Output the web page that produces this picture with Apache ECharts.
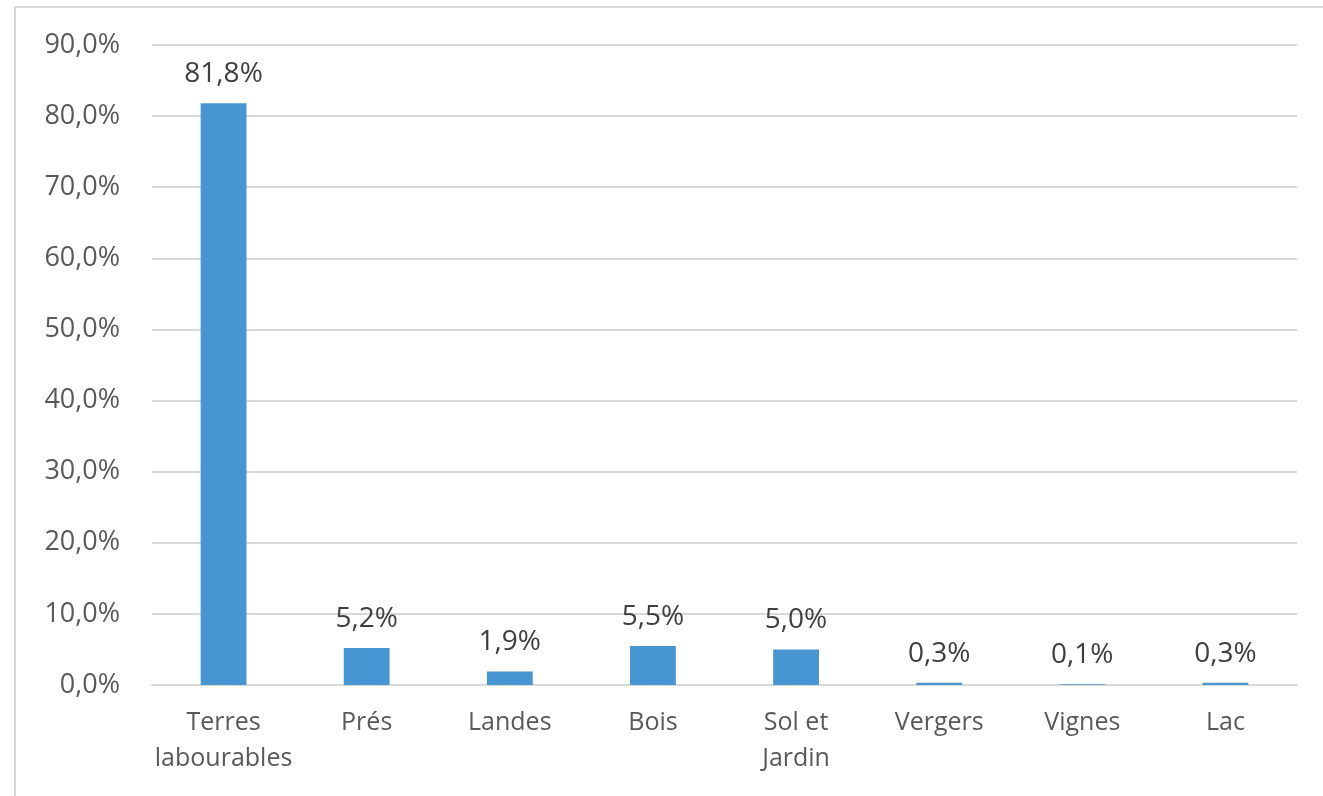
<!DOCTYPE html>
<html>
<head>
<meta charset="utf-8">
<script src="https://cdn.jsdelivr.net/npm/echarts@6/dist/echarts.min.js"></script>
<style>
    html, body { margin: 0; padding: 0; background: #fff; }
    #frame {
        position: absolute; left: 14px; top: 6px; width: 1320px; height: 800px;
        border-top: 2px solid #d9d9d9; border-left: 2px solid #d9d9d9;
    }
    #chart { position: absolute; left: 0; top: 0; width: 1323px; height: 796px; }
</style>
</head>
<body>
<div id="frame"></div>
<div id="chart"></div>
<script>
const categories = ['Terres\nlabourables', 'Prés', 'Landes', 'Bois', 'Sol et\nJardin', 'Vergers', 'Vignes', 'Lac']
const values = [81.8, 5.2, 1.9, 5.5, 5.0, 0.3, 0.1, 0.3]

const fmt = v => v.toFixed(1).replace('.', ',') + '%'
const font = '"Open Sans", sans-serif'

let Charts = echarts.init(document.getElementById('chart'))
Charts.setOption({
    animation: false,
    grid: {
        left: 152,
        right: 26,
        top: 45,
        bottom: 111,
        containLabel: false
    },
    xAxis: {
        type: 'category',
        data: categories,
        axisTick: { show: false },
        axisLine: { lineStyle: { color: '#d9d9d9', width: 2 } },
        axisLabel: {
            color: '#595959',
            fontFamily: font,
            fontSize: 25,
            lineHeight: 36,
            margin: 20,
            interval: 0
        }
    },
    yAxis: {
        type: 'value',
        min: 0,
        max: 90,
        interval: 10,
        axisTick: { show: false },
        axisLine: { show: false },
        axisLabel: {
            color: '#595959',
            fontFamily: font,
            fontSize: 27,
            margin: 32,
            formatter: v => fmt(v)
        },
        splitLine: {
            lineStyle: { color: '#d9d9d9', width: 2 }
        }
    },
    series: [{
        type: 'bar',
        data: values,
        barWidth: '32%',
        itemStyle: { color: '#4795d1' },
        label: {
            show: true,
            position: 'top',
            distance: 15,
            color: '#404040',
            fontFamily: font,
            fontSize: 28,
            formatter: p => fmt(p.value)
        }
    }]
})
</script>
</body>
</html>
